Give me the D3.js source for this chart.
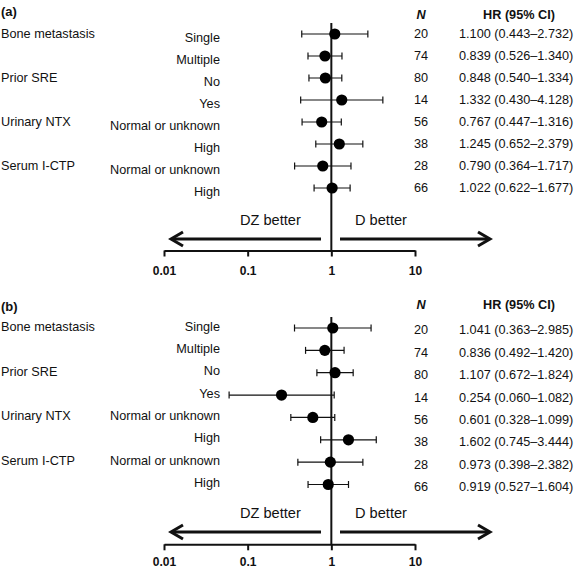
<!DOCTYPE html>
<html><head><meta charset="utf-8">
<script src="https://cdn.jsdelivr.net/npm/d3@7"></script>
<style>
html,body{margin:0;padding:0;background:#fff;}
svg{display:block;font-family:"Liberation Sans",Arial,sans-serif;}
</style></head>
<body>
<svg id="chart" width="576" height="569"></svg>
<script>
// ---- data ----
const groups = ["Bone metastasis", "Prior SRE", "Urinary NTX", "Serum I-CTP"];
const groupRow = [0, 2, 4, 6];
const subgroups = ["Single", "Multiple", "No", "Yes", "Normal or unknown", "High", "Normal or unknown", "High"];
const nValues = [20, 74, 80, 14, 56, 38, 28, 66];
const tickValues = [0.01, 0.1, 1, 10];
const tickLabels = ["0.01", "0.1", "1", "10"];

const hrA = [1.100, 0.839, 0.848, 1.332, 0.767, 1.245, 0.790, 1.022];
const loA = [0.443, 0.526, 0.540, 0.430, 0.447, 0.652, 0.364, 0.622];
const hiA = [2.732, 1.340, 1.334, 4.128, 1.316, 2.379, 1.717, 1.677];

const hrB = [1.041, 0.836, 1.107, 0.254, 0.601, 1.602, 0.973, 0.919];
const loB = [0.363, 0.492, 0.672, 0.060, 0.328, 0.745, 0.398, 0.527];
const hiB = [2.985, 1.420, 1.824, 1.082, 1.099, 3.444, 2.382, 1.604];

// ---- layout ----
const panels = [
  {tag: "(a)", hr: hrA, lo: loA, hi: hiA, tagY: 11, headY: 15, firstY: 34, lastY: 188, lineTop: 23,
   axisY: 250.5, arrowY: 239, arrowTextY: 220, tickTextDy: 20.5, subDy: 3.3, groupDy: -0.5, valDy: -0.5},
  {tag: "(b)", hr: hrB, lo: loB, hi: hiB, tagY: 306, headY: 305, firstY: 328, lastY: 484.5, lineTop: 317,
   axisY: 544.3, arrowY: 532, arrowTextY: 513, tickTextDy: 17.5, subDy: -1.8, groupDy: -1.5, valDy: 2}
];

const svg = d3.select("#chart");
const x = d3.scaleLog().domain([0.01, 10]).range([164, 415]);
const fmt = d3.format(".3f");
const ink = "#111";

panels.forEach(p => {
  const g = svg.append("g");
  const y = d3.scalePoint().domain(d3.range(subgroups.length)).range([p.firstY, p.lastY]);

  g.append("text").attr("x", 1).attr("y", p.tagY).attr("dy", "0.35em")
    .attr("font-size", 13).attr("font-weight", "bold").attr("fill", ink).text(p.tag);

  // group labels
  g.selectAll(".grp").data(groups).join("text")
    .attr("x", 1).attr("y", (d, i) => y(groupRow[i]) + p.groupDy).attr("dy", "0.35em")
    .attr("font-size", 12.7).attr("fill", ink).text(d => d);

  // subgroup labels
  g.selectAll(".sub").data(subgroups).join("text")
    .attr("x", 220).attr("y", (d, i) => y(i) + p.subDy).attr("dy", "0.35em")
    .attr("text-anchor", "end").attr("font-size", 12.7).attr("fill", ink).text(d => d);

  // headers
  g.append("text").attr("x", 421).attr("y", p.headY).attr("dy", "0.35em").attr("text-anchor", "middle")
    .attr("font-size", 12.7).attr("font-weight", "bold").attr("font-style", "italic").attr("fill", ink).text("N");
  g.append("text").attr("x", 519).attr("y", p.headY).attr("dy", "0.35em").attr("text-anchor", "middle")
    .attr("font-size", 12.7).attr("font-weight", "bold").attr("fill", ink).text("HR (95% CI)");

  // N and HR values
  g.selectAll(".n").data(nValues).join("text")
    .attr("x", 421).attr("y", (d, i) => y(i) + p.valDy).attr("dy", "0.35em").attr("text-anchor", "middle")
    .attr("font-size", 12.7).attr("fill", ink).text(d => d);
  g.selectAll(".hrv").data(p.hr).join("text")
    .attr("x", 459).attr("y", (d, i) => y(i) + p.valDy).attr("dy", "0.35em")
    .attr("font-size", 12.7).attr("fill", ink)
    .text((d, i) => `${fmt(d)} (${fmt(p.lo[i])}\u2013${fmt(p.hi[i])})`);

  // reference line at 1
  g.append("line").attr("x1", x(1)).attr("x2", x(1)).attr("y1", p.lineTop).attr("y2", p.axisY)
    .attr("stroke", ink).attr("stroke-width", 2);

  // whiskers
  const ci = g.selectAll(".ci").data(p.hr).join("g");
  ci.append("line").attr("x1", (d, i) => x(p.lo[i])).attr("x2", (d, i) => x(p.hi[i]))
    .attr("y1", (d, i) => y(i)).attr("y2", (d, i) => y(i)).attr("stroke", ink).attr("stroke-width", 1.2);
  ci.append("line").attr("x1", (d, i) => x(p.lo[i])).attr("x2", (d, i) => x(p.lo[i]))
    .attr("y1", (d, i) => y(i) - 3.5).attr("y2", (d, i) => y(i) + 3.5).attr("stroke", ink).attr("stroke-width", 1.2);
  ci.append("line").attr("x1", (d, i) => x(p.hi[i])).attr("x2", (d, i) => x(p.hi[i]))
    .attr("y1", (d, i) => y(i) - 3.5).attr("y2", (d, i) => y(i) + 3.5).attr("stroke", ink).attr("stroke-width", 1.2);
  ci.append("circle").attr("cx", d => x(d)).attr("cy", (d, i) => y(i)).attr("r", 5.6).attr("fill", "#000");

  // axis
  const axis = d3.axisBottom(x).tickValues(tickValues).tickSize(6).tickSizeOuter(0)
    .tickFormat((d, i) => tickLabels[i]);
  const ax = g.append("g").attr("transform", `translate(0,${p.axisY})`).call(axis);
  ax.select(".domain").attr("stroke", ink).attr("stroke-width", 2);
  ax.selectAll(".tick line").attr("stroke", ink).attr("stroke-width", 2);
  ax.selectAll(".tick text").attr("font-family", '"Liberation Sans",Arial,sans-serif')
    .attr("font-size", 12).attr("font-weight", "bold").attr("fill", ink).attr("y", p.tickTextDy).attr("dy", "0.35em");

  // arrows
  const ay = p.arrowY;
  g.append("line").attr("x1", 321).attr("x2", 172).attr("y1", ay).attr("y2", ay).attr("stroke", ink).attr("stroke-width", 3);
  g.append("path").attr("d", `M183,${ay - 7}L171,${ay}L183,${ay + 7}`).attr("fill", "none")
    .attr("stroke", ink).attr("stroke-width", 3).attr("stroke-linejoin", "miter");
  g.append("line").attr("x1", 340).attr("x2", 489).attr("y1", ay).attr("y2", ay).attr("stroke", ink).attr("stroke-width", 3);
  g.append("path").attr("d", `M478,${ay - 7}L490,${ay}L478,${ay + 7}`).attr("fill", "none")
    .attr("stroke", ink).attr("stroke-width", 3).attr("stroke-linejoin", "miter");
  g.append("text").attr("x", 240).attr("y", p.arrowTextY).attr("dy", "0.35em")
    .attr("font-size", 14.6).attr("fill", ink).text("DZ better");
  g.append("text").attr("x", 355).attr("y", p.arrowTextY).attr("dy", "0.35em")
    .attr("font-size", 14.6).attr("fill", ink).text("D better");
});
</script>
</body></html>
